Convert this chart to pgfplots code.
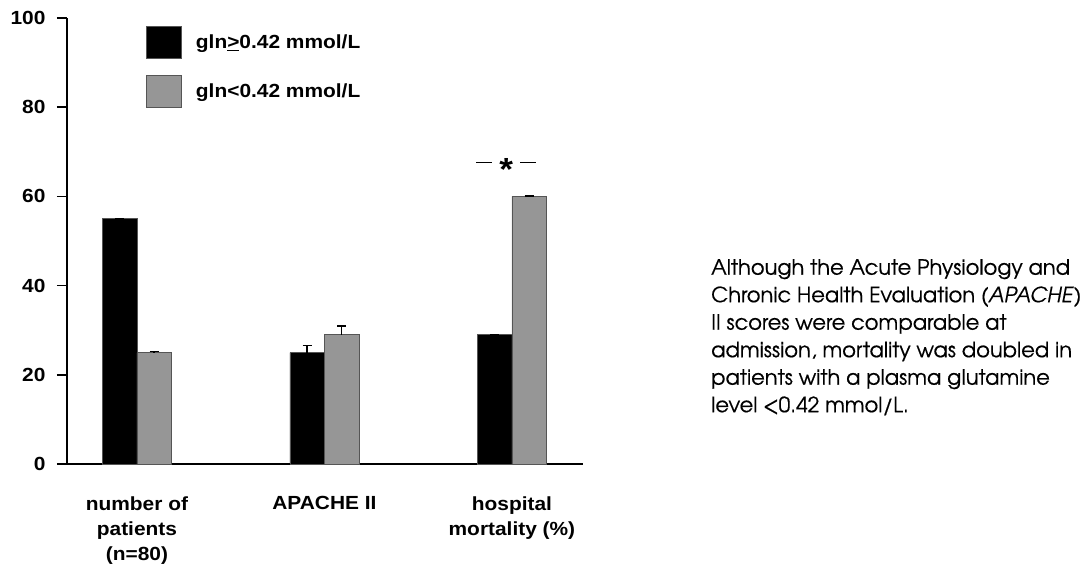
\documentclass[border=0pt]{standalone}
\usepackage{pgfplots}
\pgfplotsset{compat=1.18}
\usepackage{fontspec}
\setmainfont{Liberation Sans}
\newfontfamily\chartfont[FakeStretch=1.1]{Liberation Sans}
\newfontfamily\notefont[FakeBold=0.4]{TeX Gyre Adventor}
\definecolor{bargray}{RGB}{150,150,150}
\definecolor{edgegray}{RGB}{85,85,85}

\pgfplotstableread{
x y e
0 55 0
1 25 1.6
2 29 0
}\highgln
\pgfplotstableread{
x y e
0 25 0.2
1 29 2.0
2 60 0.15
}\lowgln

\begin{document}
\begin{tikzpicture}
\useasboundingbox (0pt,0pt) rectangle (1085pt,563pt);
\begin{axis}[
  at={(67pt,99pt)}, anchor=south west,
  scale only axis, width=516pt, height=446pt,
  xmin=-0.373, xmax=2.379, ymin=0, ymax=100,
  axis x line*=bottom, axis y line*=left,
  axis line style={line width=1.8pt, black},
  x axis line style={line width=2.2pt},
  ytick={0,20,40,60,80,100},
  tick align=outside, major tick length=10pt,
  y tick style={line width=1.6pt, black},
  xtick={0,1,2},
  xticklabels={{number of\\patients\\(n=80)},{APACHE II},{hospital\\mortality (\%)}},
  x tick style={draw=none},
  /pgf/number format/assume math mode=true,
  tick label style={font=\chartfont\bfseries\fontsize{19}{19}\selectfont},
  yticklabel style={xshift=-8pt},
  xticklabel style={align=center, font=\chartfont\bfseries\fontsize{19}{25}\selectfont, yshift=-19pt},
  ybar=0pt, bar width=34.5pt,
  clip=false,
  legend cell align=left,
  legend image code/.code={\draw[#1, line width=0.8pt] (0pt,-16pt) rectangle (35pt,16pt);},
  legend style={draw=none, fill=none, at={(0.153,0.982)}, anchor=north west,
    font=\chartfont\bfseries\fontsize{19}{19}\selectfont, row sep=16pt,
    inner sep=0pt, nodes={inner sep=0pt},
    /tikz/every odd column/.append style={column sep=14pt}},
]
\addplot[ybar, fill=black, draw=edgegray, line width=0.6pt,
  error bars/.cd, y dir=plus, y explicit,
  error bar style={line width=1.6pt, black},
  error mark options={rotate=90, mark size=4.5pt, line width=1.6pt, black}]
  table[x=x, y=y, y error=e] {\highgln};
\addlegendentry{gln\underline{>}0.42 mmol/L}
\addplot[ybar, fill=bargray, draw=edgegray, line width=0.8pt,
  error bars/.cd, y dir=plus, y explicit,
  error bar style={line width=1.6pt, black},
  error mark options={rotate=90, mark size=4.5pt, line width=1.6pt, black}]
  table[x=x, y=y, y error=e] {\lowgln};
\addlegendentry{gln<0.42 mmol/L}
\node[font=\chartfont\bfseries\fontsize{32}{32}\selectfont, inner sep=0pt] at (axis cs:1.97,66.0)
  {\rule[0.24em]{16pt}{1.4pt}\hspace{7pt}\raisebox{-0.3em}{*}\hspace{7pt}\rule[0.24em]{16pt}{1.4pt}};
\end{axis}
\node[anchor=north west, align=left, inner sep=0pt,
  font=\notefont\fontsize{21}{27.5}\selectfont] at (711pt,304pt)
  {Although the Acute Physiology and\\
   Chronic Health Evaluation (\textit{APACHE})\\
   II scores were comparable at\\
   admission, mortality was doubled in\\
   patients with a plasma glutamine\\
   level <0.42 mmol/L.};
\end{tikzpicture}
\end{document}
